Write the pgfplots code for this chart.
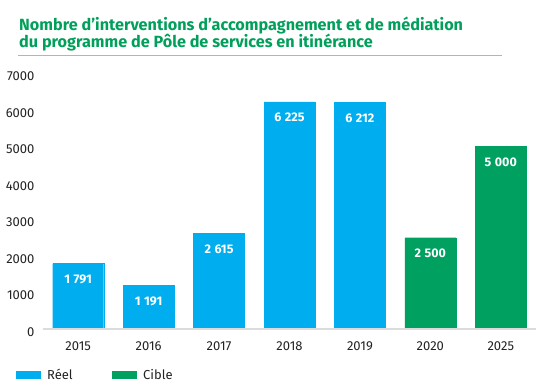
\documentclass[border=0pt]{standalone}
\usepackage{pgfplots}
\pgfplotsset{compat=1.18}
\usepackage{fontspec}
\setmainfont{Fira Sans}
\definecolor{reel}{RGB}{0,174,239}
\definecolor{cible}{RGB}{0,160,96}
\definecolor{titlegreen}{RGB}{0,160,90}
\definecolor{rulegreen}{RGB}{120,212,175}
\definecolor{basegray}{RGB}{220,220,220}
\definecolor{txt}{RGB}{35,35,35}
\newcommand{\ns}{\hspace{0.28em}}
\begin{document}
\begin{tikzpicture}[x=1pt,y=1pt]
\path (0,0) rectangle (560,390);
\node[anchor=base west, inner sep=0, text=titlegreen, font=\bfseries\fontsize{16.2}{19}\selectfont] at (19,359.5) {Nombre d’interventions d’accompagnement et de médiation};
\node[anchor=base west, inner sep=0, text=titlegreen, font=\bfseries\fontsize{16.2}{19}\selectfont] at (19,342.5) {du programme de Pôle de services en itinérance};
\draw[rulegreen, line width=1.2pt] (18,334.3) -- (502,334.3);
\begin{axis}[
  at={(43pt,61pt)}, anchor=south west,
  scale only axis, width=493pt, height=255.5pt,
  xmin=-0.5, xmax=6.5, ymin=0, ymax=7000,
  axis line style={draw=none}, tick style={draw=none},
  xtick={0,1,2,3,4,5,6},
  xticklabels={2015,2016,2017,2018,2019,2020,2025},
  ytick={0,1000,2000,3000,4000,5000,6000,7000},
  scaled y ticks=false,
  /pgf/number format/assume math mode=true,
  yticklabel={\pgfmathprintnumber[1000 sep={}]{\tick}},
  ticklabel style={font=\fontsize{13}{15}\selectfont, text=txt},
  xticklabel style={yshift=-5pt},
  yticklabel style={xshift=-5pt, yshift=-3pt},
  ybar, bar width=51pt, bar shift=0pt,
  point meta=explicit symbolic,
  nodes near coords,
  every node near coord/.append style={anchor=north, yshift=-8pt, text=white, font=\bfseries\fontsize{12.5}{14}\selectfont},
  legend style={at={(-0.0548,-0.18)}, anchor=west, draw=none, fill=none, inner sep=0pt,
    font=\fontsize{13}{15}\selectfont, text=txt,
    nodes={inner sep=3.5pt},
    /tikz/every even column/.style={column sep=36pt}},
  legend columns=2,
  legend image code/.code={\fill[#1] (0pt,-3.5pt) rectangle (24pt,3.5pt);},
  clip=false,
]
\addplot[fill=reel, draw=reel] coordinates {(0,1791)[1\ns791] (1,1191)[1\ns191] (2,2615)[2\ns615] (3,6225)[6\ns225] (4,6212)[6\ns212]};
\addlegendentry{\hspace{3pt}Réel}
\addplot[fill=cible, draw=cible] coordinates {(5,2500)[2\ns500] (6,5000)[5\ns000]};
\addlegendentry{\hspace{3pt}Cible}
\draw[basegray, line width=1.2pt] (axis cs:-0.5,0) -- (axis cs:6.5,0);
\end{axis}
\end{tikzpicture}
\end{document}
